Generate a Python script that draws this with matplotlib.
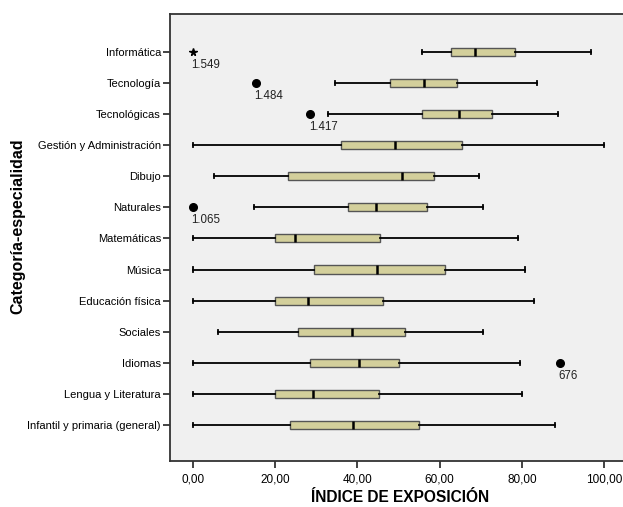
import matplotlib
matplotlib.use('Agg')
import matplotlib.pyplot as plt

plt.rcParams['font.family'] = ['Liberation Sans', 'DejaVu Sans']

# Categories from bottom to top
categories = ['Infantil y primaria (general)', 'Lengua y Literatura', 'Idiomas', 'Sociales',
              'Educación física', 'Música', 'Matemáticas', 'Naturales', 'Dibujo',
              'Gestión y Administración', 'Tecnológicas', 'Tecnología', 'Informática']

whisker_low = [0.0, 0.0, 0.0, 6.1, 0.0, 0.0, 0.0, 14.9, 5.2, 0.0, 32.9, 34.6, 55.7]
q1 = [23.6, 19.9, 28.6, 25.5, 19.9, 29.5, 19.9, 37.8, 23.1, 36.0, 55.7, 47.9, 62.8]
median = [39.0, 29.3, 40.5, 38.8, 28.0, 44.7, 24.9, 44.5, 50.9, 49.1, 64.7, 56.2, 68.5]
q3 = [54.9, 45.3, 50.1, 51.5, 46.2, 61.2, 45.6, 57.0, 58.6, 65.4, 72.7, 64.2, 78.2]
whisker_high = [87.9, 80.0, 79.6, 70.6, 82.8, 80.8, 79.0, 70.5, 69.5, 100.0, 88.8, 83.7, 96.8]

# Atypical cases: category, value, case id, marker ('o' outlier, '*' extreme)
out_cat = ['Idiomas', 'Naturales', 'Tecnológicas', 'Tecnología', 'Informática']
out_val = [89.1, 0.0, 28.6, 15.3, 0.0]
out_id = ['676', '1.065', '1.417', '1.484', '1.549']
out_marker = ['o', 'o', 'o', 'o', '*']

stats = []
for i, c in enumerate(categories):
    stats.append({'label': c, 'whislo': whisker_low[i], 'q1': q1[i], 'med': median[i],
                  'q3': q3[i], 'whishi': whisker_high[i], 'fliers': []})

fig = plt.figure(figsize=(6.23, 5.07), dpi=100)
ax = fig.add_axes([170 / 623, 46 / 507, 453 / 623, 447 / 507])
ax.set_facecolor('#f0f0f0')

positions = list(range(len(categories)))
ax.bxp(stats, positions=positions, orientation='horizontal', widths=0.26, capwidths=0.13,
       patch_artist=True, showfliers=False,
       boxprops=dict(facecolor='#d3cf9b', edgecolor='#555555', linewidth=1.0),
       medianprops=dict(color='black', linewidth=1.8),
       whiskerprops=dict(color='black', linewidth=1.3),
       capprops=dict(color='black', linewidth=1.3))

for c, v, lab, m in zip(out_cat, out_val, out_id, out_marker):
    y = categories.index(c)
    if m == '*':
        ax.plot(v, y, marker='*', color='black', markersize=5.5, linestyle='none')
    else:
        ax.plot(v, y, marker='o', color='black', markersize=5.5, linestyle='none')
    ax.text(v - 0.4, y - 0.22, lab, fontsize=8.3, va='top', ha='left', color='#222222')

ax.set_xlim(-5.5, 104.5)
ax.set_ylim(-1.16, 13.22)
ax.set_yticks(positions)
ax.set_yticklabels(categories, fontsize=8)
xt = [0, 20, 40, 60, 80, 100]
ax.set_xticks(xt)
ax.set_xticklabels([('%.2f' % t).replace('.', ',') for t in xt], fontsize=8.5)
ax.tick_params(axis='both', direction='out', length=5, width=1.2, color='#222222')
ax.tick_params(axis='y', pad=1.5)
ax.tick_params(axis='x', pad=4)

for s in ['left', 'bottom', 'top']:
    ax.spines[s].set_color('#333333')
    ax.spines[s].set_linewidth(1.3)
ax.spines['right'].set_visible(False)

ax.set_xlabel('ÍNDICE DE EXPOSICIÓN', fontsize=11.2, fontweight='bold')
ax.xaxis.set_label_coords(0.508, -0.081)
ax.xaxis.label.set_va('center')
ax.set_ylabel('Categoría-especialidad', fontsize=11.5, fontweight='bold')
ax.yaxis.set_label_coords(-0.335, 0.525)
ax.yaxis.label.set_va('center')

fig.savefig('out.png', dpi=100)
